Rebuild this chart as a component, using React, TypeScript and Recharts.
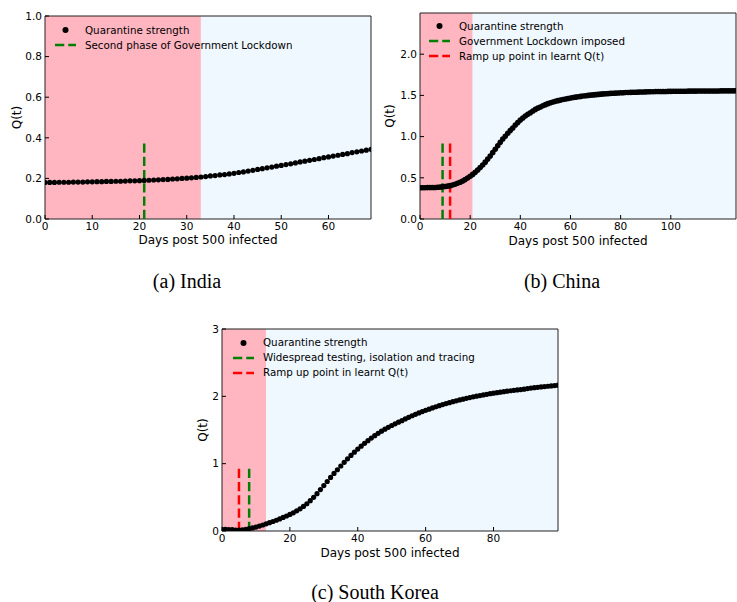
import React from 'react';
import { ComposedChart, Scatter, XAxis, YAxis, ReferenceArea, ReferenceLine, Label } from 'recharts';

const FONT = '"DejaVu Sans", sans-serif';
const SERIF = '"Liberation Serif", serif';

// ---------- India ----------
const indiaQ = [
  0.180, 0.180, 0.180, 0.181, 0.181, 0.181, 0.182, 0.182, 0.182, 0.183,
  0.183, 0.184, 0.184, 0.185, 0.185, 0.186, 0.186, 0.187, 0.188, 0.188,
  0.189, 0.190, 0.191, 0.192, 0.193, 0.194, 0.195, 0.197, 0.198, 0.200,
  0.201, 0.203, 0.205, 0.207, 0.209, 0.212, 0.214, 0.217, 0.219, 0.222,
  0.225, 0.229, 0.232, 0.236, 0.240, 0.244, 0.248, 0.252, 0.256, 0.260,
  0.264, 0.268, 0.272, 0.276, 0.281, 0.285, 0.289, 0.293, 0.297, 0.302,
  0.306, 0.310, 0.314, 0.318, 0.322, 0.327, 0.331, 0.335, 0.339, 0.343,
];
const indiaXMax = 69;
const indiaYMax = 1.0;
const indiaRedUntil = 33;
const indiaXTicks = [0, 10, 20, 30, 40, 50, 60];
const indiaYTicks = [0, 0.2, 0.4, 0.6, 0.8, 1.0];
const indiaMarkers = [{ day: 21, top: 0.38, color: 'green' }];
const indiaLegend = [
  { label: 'Quarantine strength', kind: 'dot', color: '#000' },
  { label: 'Second phase of Government Lockdown', kind: 'dash', color: 'green' },
];

// ---------- China ----------
const chinaQ = [
  0.380, 0.380, 0.380, 0.381, 0.381, 0.382, 0.383, 0.385, 0.387, 0.390,
  0.394, 0.399, 0.405, 0.413, 0.422, 0.433, 0.446, 0.461, 0.478, 0.497,
  0.518, 0.541, 0.566, 0.594, 0.624, 0.656, 0.690, 0.727, 0.765, 0.805,
  0.846, 0.888, 0.930, 0.970, 1.005, 1.040, 1.075, 1.105, 1.140, 1.170,
  1.200, 1.225, 1.250, 1.270, 1.290, 1.310, 1.330, 1.345, 1.360, 1.375,
  1.388, 1.400, 1.410, 1.420, 1.428, 1.436, 1.443, 1.450, 1.457, 1.463,
  1.469, 1.474, 1.479, 1.484, 1.488, 1.492, 1.496, 1.500, 1.503, 1.506,
  1.509, 1.512, 1.515, 1.518, 1.520, 1.522, 1.524, 1.526, 1.528, 1.530,
  1.532, 1.533, 1.535, 1.536, 1.537, 1.538, 1.539, 1.540, 1.541, 1.542,
  1.543, 1.544, 1.545, 1.545, 1.546, 1.547, 1.547, 1.548, 1.548, 1.549,
  1.549, 1.550, 1.550, 1.550, 1.551, 1.551, 1.551, 1.552, 1.552, 1.552,
  1.552, 1.553, 1.553, 1.553, 1.553, 1.554, 1.554, 1.554, 1.554, 1.554,
  1.555, 1.555, 1.555, 1.555, 1.555, 1.555, 1.556,
];
const chinaXMax = 126;
const chinaYMax = 2.5;
const chinaRedUntil = 21;
const chinaXTicks = [0, 20, 40, 60, 80, 100];
const chinaYTicks = [0, 0.5, 1.0, 1.5, 2.0];
const chinaMarkers = [
  { day: 9, top: 0.95, color: 'green' },
  { day: 12, top: 0.95, color: 'red' },
];
const chinaLegend = [
  { label: 'Quarantine strength', kind: 'dot', color: '#000' },
  { label: 'Government Lockdown imposed', kind: 'dash', color: 'green' },
  { label: 'Ramp up point in learnt Q(t)', kind: 'dash', color: 'red' },
];

// ---------- South Korea ----------
const koreaQ = [
  0.025, 0.024, 0.022, 0.019, 0.015, 0.012, 0.016, 0.024, 0.034, 0.046,
  0.059, 0.073, 0.089, 0.106, 0.123, 0.141, 0.160, 0.180, 0.201, 0.223,
  0.246, 0.270, 0.300, 0.330, 0.365, 0.405, 0.450, 0.500, 0.555, 0.615,
  0.675, 0.735, 0.795, 0.855, 0.910, 0.965, 1.020, 1.072, 1.122, 1.170,
  1.216, 1.260, 1.302, 1.342, 1.380, 1.416, 1.450, 1.482, 1.512, 1.540,
  1.567, 1.592, 1.616, 1.639, 1.665, 1.688, 1.712, 1.733, 1.753, 1.773,
  1.792, 1.810, 1.828, 1.845, 1.861, 1.877, 1.892, 1.906, 1.920, 1.933,
  1.946, 1.958, 1.970, 1.981, 1.992, 2.002, 2.012, 2.021, 2.030, 2.039,
  2.047, 2.055, 2.062, 2.069, 2.076, 2.083, 2.089, 2.095, 2.101, 2.107,
  2.115, 2.122, 2.128, 2.134, 2.140, 2.145, 2.150, 2.155, 2.160, 2.165,
];
const koreaXMax = 99;
const koreaYMax = 3;
const koreaRedUntil = 13;
const koreaXTicks = [0, 20, 40, 60, 80];
const koreaYTicks = [0, 1, 2, 3];
const koreaMarkers = [
  { day: 5, top: 0.95, color: 'red' },
  { day: 8, top: 0.95, color: 'green' },
];
const koreaLegend = [
  { label: 'Quarantine strength', kind: 'dot', color: '#000' },
  { label: 'Widespread testing, isolation and tracing', kind: 'dash', color: 'green' },
  { label: 'Ramp up point in learnt Q(t)', kind: 'dash', color: 'red' },
];

const X_LABEL = 'Days post 500 infected';
const Y_LABEL = 'Q(t)';

type Marker = { day: number; top: number; color: string };
type LegendItem = { label: string; kind: string; color: string };

function LegendBox({ items, left, top }: { items: LegendItem[]; left: number; top: number }) {
  return (
    <div
      style={{
        position: 'absolute',
        left,
        top,
        fontFamily: FONT,
        fontSize: 10.3,
        color: '#000',
        lineHeight: '15px',
        pointerEvents: 'none',
      }}
    >
      {items.map((it, i) => (
        <div key={i} style={{ display: 'flex', alignItems: 'center', height: 15, whiteSpace: 'nowrap' }}>
          <svg width={21} height={10} style={{ display: 'block' }}>
            {it.kind === 'dot' ? (
              <circle cx={10.5} cy={5} r={3} fill={it.color} />
            ) : (
              <line x1={0} y1={5} x2={21} y2={5} stroke={it.color} strokeWidth={2.5} strokeDasharray="9.25 4" />
            )}
          </svg>
          <span style={{ marginLeft: 9 }}>{it.label}</span>
        </div>
      ))}
    </div>
  );
}

type PanelProps = {
  left: number;
  top: number;
  width: number;
  height: number;
  margin: { top: number; right: number; bottom: number; left: number };
  values: number[];
  xMax: number;
  yMax: number;
  xTicks: number[];
  yTicks: number[];
  yDecimals: number;
  redUntil: number;
  markers: Marker[];
  legend: LegendItem[];
  legendLeft: number;
  legendTop: number;
  dotR: number;
  yLabelGap: number;
  xLabelGap: number;
};

function Panel(p: PanelProps) {
  const data = p.values.map((q, i) => ({ day: i, q }));
  const tickStyle = { fontFamily: FONT, fontSize: 10.5, fill: '#000' };
  return (
    <div style={{ position: 'absolute', left: p.left, top: p.top, width: p.width, height: p.height }}>
      <ComposedChart width={p.width} height={p.height} margin={p.margin} data={data}>
        <ReferenceArea x1={0} x2={p.redUntil} y1={0} y2={p.yMax} fill="#FFB6C1" fillOpacity={1} stroke="none" />
        <ReferenceArea x1={p.redUntil} x2={p.xMax} y1={0} y2={p.yMax} fill="#EFF7FF" fillOpacity={1} stroke="none" />
        <XAxis
          dataKey="day"
          type="number"
          domain={[0, p.xMax]}
          ticks={p.xTicks}
          interval={0}
          height={30}
          axisLine={false}
          tickSize={-4}
          tickMargin={8}
          tickLine={{ stroke: '#000' }}
          tick={tickStyle}
          allowDataOverflow
        >
          <Label
            content={(lp: any) => {
              const vb = lp.viewBox;
              return (
                <text
                  x={vb.x + vb.width / 2}
                  y={vb.y + p.xLabelGap}
                  textAnchor="middle"
                  dominantBaseline="central"
                  fontFamily={FONT}
                  fontSize={12}
                  fill="#000"
                >
                  {X_LABEL}
                </text>
              );
            }}
          />
        </XAxis>
        <YAxis
          type="number"
          domain={[0, p.yMax]}
          ticks={p.yTicks}
          interval={0}
          width={35}
          axisLine={false}
          tickSize={-4}
          tickMargin={7}
          tickLine={{ stroke: '#000' }}
          tick={tickStyle}
          tickFormatter={(v: number) => v.toFixed(p.yDecimals)}
          allowDataOverflow
        >
          <Label
            content={(lp: any) => {
              const vb = lp.viewBox;
              const cx = vb.x + vb.width - p.yLabelGap;
              const cy = vb.y + vb.height / 2;
              return (
                <text
                  x={cx}
                  y={cy}
                  transform={`rotate(-90 ${cx} ${cy})`}
                  textAnchor="middle"
                  dominantBaseline="central"
                  fontFamily={FONT}
                  fontSize={12}
                  fill="#000"
                >
                  {Y_LABEL}
                </text>
              );
            }}
          />
        </YAxis>
        <Scatter
          dataKey="q"
          isAnimationActive={false}
          shape={(sp: any) => <circle cx={sp.cx} cy={sp.cy} r={p.dotR} fill="#000" />}
        />
        {p.markers.map((m, i) => (
          <ReferenceLine
            key={i}
            segment={[
              { x: m.day, y: 0 },
              { x: m.day, y: m.top },
            ]}
            stroke={m.color}
            strokeWidth={2.5}
            strokeDasharray="9.25 4"
          />
        ))}
        <ReferenceArea x1={0} x2={p.xMax} y1={0} y2={p.yMax} fill="none" stroke="#222" strokeWidth={1} />
      </ComposedChart>
      <LegendBox items={p.legend} left={p.legendLeft} top={p.legendTop} />
    </div>
  );
}

function Caption({ text, center, y }: { text: string; center: number; y: number }) {
  return (
    <div
      style={{
        position: 'absolute',
        left: center - 150,
        width: 300,
        top: y,
        textAlign: 'center',
        fontFamily: SERIF,
        fontSize: 20,
        lineHeight: '20px',
        color: '#000',
      }}
    >
      {text}
    </div>
  );
}

export default function App() {
  return (
    <div style={{ position: 'absolute', left: 0, top: 0, width: 737, height: 602, background: '#fff', overflow: 'hidden' }}>
      <Panel
        left={0}
        top={0}
        width={380}
        height={262}
        margin={{ top: 16, right: 9, bottom: 13, left: 10 }}
        values={indiaQ}
        xMax={indiaXMax}
        yMax={indiaYMax}
        xTicks={indiaXTicks}
        yTicks={indiaYTicks}
        yDecimals={1}
        redUntil={indiaRedUntil}
        markers={indiaMarkers}
        legend={indiaLegend}
        legendLeft={55}
        legendTop={22.5}
        dotR={2.6}
        yLabelGap={28}
        xLabelGap={21}
      />
      <Panel
        left={370}
        top={0}
        width={367}
        height={262}
        margin={{ top: 13, right: 1, bottom: 13, left: 15 }}
        values={chinaQ}
        xMax={chinaXMax}
        yMax={chinaYMax}
        xTicks={chinaXTicks}
        yTicks={chinaYTicks}
        yDecimals={1}
        redUntil={chinaRedUntil}
        markers={chinaMarkers}
        legend={chinaLegend}
        legendLeft={59}
        legendTop={18.5}
        dotR={2.8}
        yLabelGap={30}
        xLabelGap={21.5}
      />
      <Panel
        left={180}
        top={316}
        width={390}
        height={262}
        margin={{ top: 13, right: 12, bottom: 17, left: 7 }}
        values={koreaQ}
        xMax={koreaXMax}
        yMax={koreaYMax}
        xTicks={koreaXTicks}
        yTicks={koreaYTicks}
        yDecimals={0}
        redUntil={koreaRedUntil}
        markers={koreaMarkers}
        legend={koreaLegend}
        legendLeft={53}
        legendTop={19}
        dotR={2.6}
        yLabelGap={19}
        xLabelGap={22}
      />
      <Caption text="(a) India" center={187} y={271} />
      <Caption text="(b) China" center={562} y={271} />
      <Caption text="(c) South Korea" center={375} y={582} />
    </div>
  );
}
